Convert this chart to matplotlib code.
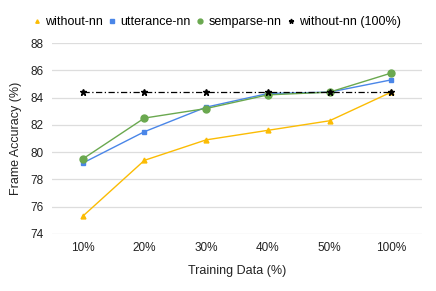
import numpy as np
import matplotlib.pyplot as plt

plt.rcParams['font.family'] = ['Liberation Sans', 'DejaVu Sans']

labels = ['10%', '20%', '30%', '40%', '50%', '100%']
without_nn = [75.3, 79.4, 80.9, 81.6, 82.3, 84.4]
utterance_nn = [79.2, 81.5, 83.3, 84.3, 84.4, 85.3]
semparse_nn = [79.5, 82.5, 83.2, 84.2, 84.4, 85.8]
without_nn_full = [84.4, 84.4, 84.4, 84.4, 84.4, 84.4]

fig = plt.figure(figsize=(4.36, 2.91), dpi=100)
ax = fig.add_axes([0.119, 0.196, 0.849, 0.656])
x = np.arange(len(labels))

ax.plot(x, without_nn, color='#fbbc04', marker='^', ms=3.5, lw=1.0, label='without-nn')
ax.plot(x, utterance_nn, color='#4a86e8', marker='s', ms=3.5, lw=1.0, label='utterance-nn')
ax.plot(x, semparse_nn, color='#6aa84f', marker='o', ms=5, lw=1.0, label='semparse-nn')
ax.plot(x, without_nn_full, color='black', marker='*', ms=5, lw=0.9,
        linestyle=(0, (5, 2, 1, 2)), label='without-nn (100%)')

ax.set_xlim(-0.5, 5.5)
ax.set_ylim(74, 88)
ax.set_yticks(np.arange(74, 89, 2))
ax.set_xticks(x)
ax.set_xticklabels(labels)
ax.grid(axis='y', color='#dddddd', lw=0.9)
ax.set_axisbelow(True)
for s in ax.spines.values():
    s.set_visible(False)
ax.tick_params(length=0, labelsize=8.5, colors='#222222', pad=6)
ax.set_xlabel('Training Data (%)', fontsize=9, color='#222222', labelpad=8)
ax.set_ylabel('Frame Accuracy (%)', fontsize=9, color='#222222', labelpad=6)

leg = ax.legend(loc='lower center', bbox_to_anchor=(0.447, 1.02), ncol=4, frameon=False,
                fontsize=9, handlelength=0.5, handletextpad=0.4, columnspacing=0.5,
                markerscale=0.7)
for h in leg.legend_handles:
    h.set_linestyle('none')

fig.savefig('out.png', dpi=100)
